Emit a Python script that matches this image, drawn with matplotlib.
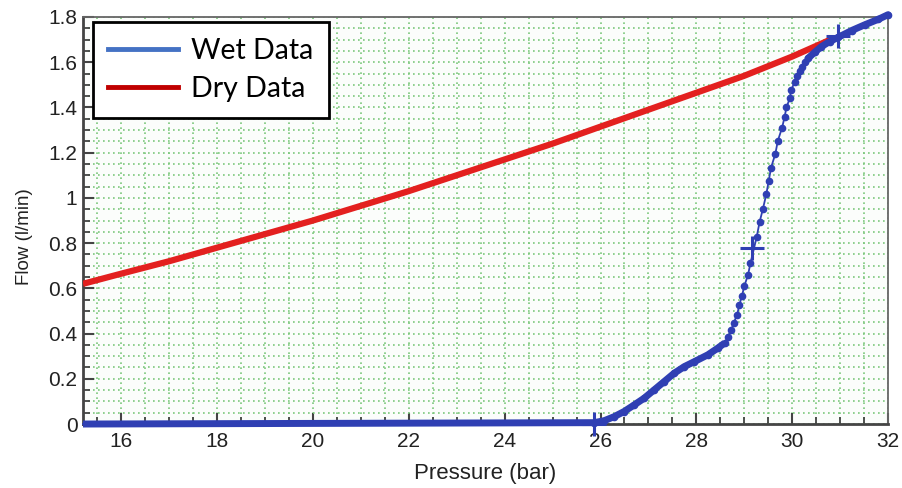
import matplotlib
matplotlib.use("Agg")
import matplotlib.pyplot as plt
from matplotlib.lines import Line2D
from matplotlib.ticker import MultipleLocator, FormatStrFormatter
import numpy as np

# ---- data ----
dry_p = [15.2, 16, 17, 18, 19, 20, 21, 22, 23, 24, 25, 26, 27, 28, 29, 30, 30.8]
dry_q = [0.62, 0.665, 0.72, 0.78, 0.84, 0.90, 0.965, 1.03, 1.10, 1.17, 1.24,
         1.315, 1.39, 1.465, 1.54, 1.625, 1.70]

wet_p = [15.2, 25.87, 26.08, 26.28, 26.49, 26.70, 26.91, 27.12, 27.33, 27.54,
         27.75, 27.96, 28.24, 28.45, 28.59, 28.66, 28.73, 28.78, 28.85, 28.90,
         28.95, 29.00, 29.08, 29.13, 29.26, 29.32, 29.39, 29.46, 29.51, 29.56,
         29.65, 29.70, 29.79, 29.84, 29.88, 29.95, 29.98, 30.05, 30.11, 30.16,
         30.21, 30.26, 30.33, 30.47, 30.61, 30.78, 30.96, 31.24, 31.51, 31.80, 32.0]
wet_q = [0.0, 0.006, 0.015, 0.032, 0.055, 0.084, 0.114, 0.151, 0.188, 0.225,
         0.254, 0.276, 0.306, 0.336, 0.358, 0.384, 0.417, 0.447, 0.483, 0.528,
         0.565, 0.609, 0.661, 0.712, 0.828, 0.893, 0.952, 1.016, 1.075, 1.134,
         1.196, 1.252, 1.311, 1.356, 1.40, 1.44, 1.478, 1.511, 1.537, 1.562,
         1.58, 1.60, 1.617, 1.644, 1.669, 1.691, 1.71, 1.74, 1.765, 1.79, 1.81]

cross_p = [25.87, 29.17, 30.95]
cross_q = [0.0, 0.78, 1.715]

legend_labels = ["Wet Data", "Dry Data"]
x_ticks = [16, 18, 20, 22, 24, 26, 28, 30, 32]

# ---- styling ----
DATA_BLUE = "#2f3fb3"
DATA_RED = "#e3201f"
LEG_BLUE = "#4472c4"
LEG_RED = "#c00000"
GRID_GREEN = "#7cc87c"

fig = plt.figure(figsize=(9.03, 4.88), dpi=100)
ax = fig.add_axes([0.0919, 0.1311, 0.8915, 0.8341])
ax.set_facecolor("#fbfdfb")

ax.set_xlim(15.2, 32)
ax.set_ylim(0, 1.8)

# grid
ax.xaxis.set_major_locator(MultipleLocator(2))
ax.xaxis.set_minor_locator(MultipleLocator(0.5))
ax.yaxis.set_major_locator(MultipleLocator(0.2))
ax.yaxis.set_minor_locator(MultipleLocator(0.05))
ax.grid(which="both", color=GRID_GREEN, linestyle=(0, (1, 2)), linewidth=1.2)
ax.set_axisbelow(True)

# dry data
ax.plot(dry_p, dry_q, color=DATA_RED, linewidth=4.5, solid_capstyle="butt", zorder=3)

# wet data
wp = np.array(wet_p)
wq = np.array(wet_q)
ax.plot(wp, wq, color=DATA_BLUE, linewidth=1.3, zorder=4, clip_on=False)
low = wp <= 28.6
ax.plot(wp[low], wq[low], color=DATA_BLUE, linewidth=5, zorder=4, clip_on=False,
        solid_capstyle="butt")
high = wp >= 30.3
ax.plot(wp[high], wq[high], color=DATA_BLUE, linewidth=5, zorder=4, clip_on=False,
        solid_capstyle="round")
ax.plot(wp[1:], wq[1:], linestyle="none", marker="o", markersize=4.5,
        color=DATA_BLUE, zorder=5, clip_on=False)
ax.plot(cross_p, cross_q, linestyle="none", marker="+", markersize=17,
        markeredgewidth=2.2, color=DATA_BLUE, zorder=6, clip_on=False)

# ticks
ax.set_xticks(x_ticks)
ax.yaxis.set_major_formatter(FormatStrFormatter("%g"))
ax.tick_params(axis="both", which="major", direction="in", length=8, width=1.5,
               color="#444444", labelsize=15)
ax.tick_params(axis="x", which="major", pad=6)
ax.tick_params(axis="y", which="major", pad=4)
ax.tick_params(axis="both", which="minor", direction="in", length=5, width=1.3,
               color="#444444")
for lab in ax.get_xticklabels() + ax.get_yticklabels():
    lab.set_fontfamily("Liberation Sans")
    lab.set_color("#222222")

for side in ["left", "bottom"]:
    ax.spines[side].set_color("#444444")
    ax.spines[side].set_linewidth(2)
for side in ["top", "right"]:
    ax.spines[side].set_color("#666666")
    ax.spines[side].set_linewidth(1.3)

ax.set_xlabel("Pressure (bar)", fontsize=16, family="Liberation Sans",
              color="#222222")
ax.xaxis.set_label_coords(0.5, -0.095)
ax.set_ylabel("Flow (l/min)", fontsize=13.5, family="Liberation Sans",
              color="#222222")
ax.yaxis.set_label_coords(-0.062, 0.46)

# legend
handles = [Line2D([0], [0], color=LEG_BLUE, linewidth=3.5),
           Line2D([0], [0], color=LEG_RED, linewidth=3.5)]
leg = ax.legend(handles, legend_labels, loc="upper left",
                bbox_to_anchor=(0.012, 0.988), fancybox=False, framealpha=1,
                edgecolor="black", prop={"family": "Lato", "size": 20.5},
                handlelength=2.45, handletextpad=0.45, labelspacing=0.45,
                borderpad=0.55, borderaxespad=0.0)
leg.get_frame().set_linewidth(2)
leg.set_zorder(10)

fig.savefig("out.png", dpi=100)
